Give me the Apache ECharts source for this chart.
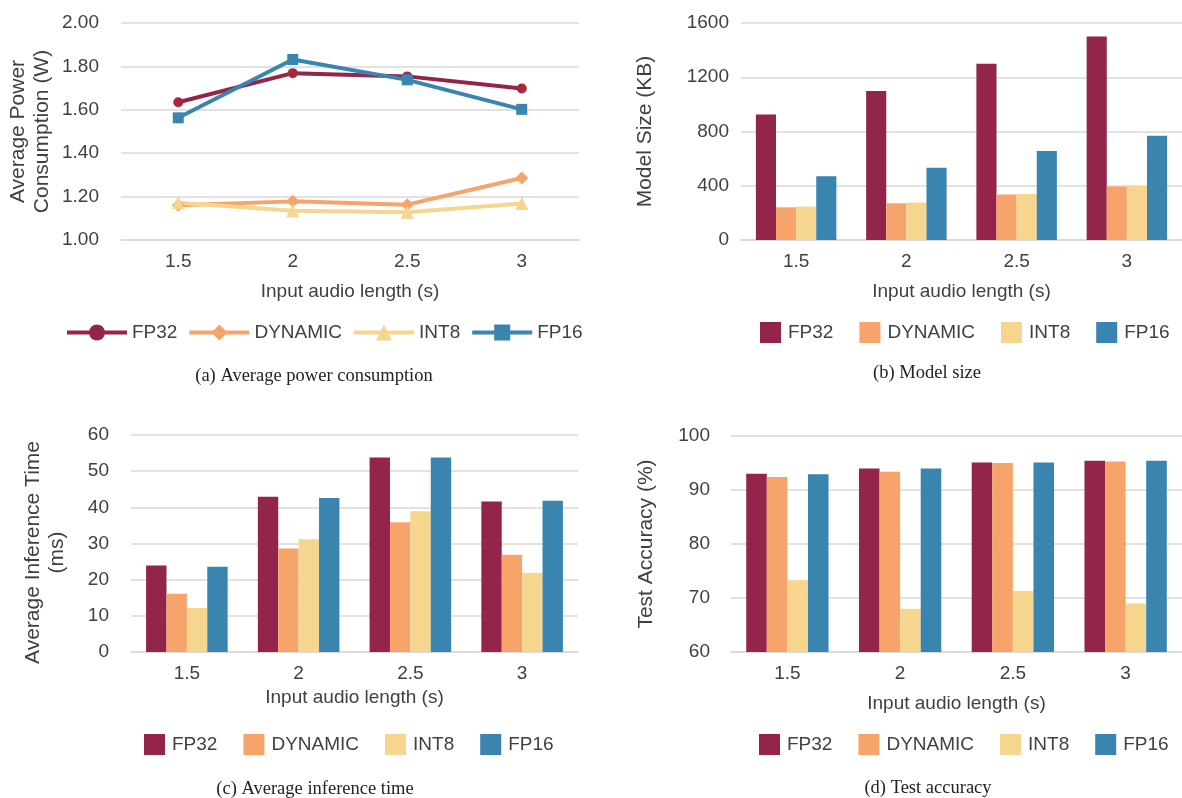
<!DOCTYPE html>
<html>
<head>
<meta charset="utf-8">
<title>Quantization results</title>
<script src="https://cdn.jsdelivr.net/npm/echarts@6/dist/echarts.min.js"></script>
<style>
  html, body { margin: 0; padding: 0; background: #ffffff; }
  #chart { width: 1182px; height: 798px; }
</style>
</head>
<body>
<div id="chart"></div>
<script>
// Input audio lengths (s) shared by all four panels
const categories = ['1.5', '2', '2.5', '3'];
const seriesNames = ['FP32', 'DYNAMIC', 'INT8', 'FP16'];

// (a) Average power consumption (W)
const powerFP32 = [1.635, 1.769, 1.754, 1.698];
const powerDYNAMIC = [1.160, 1.178, 1.163, 1.286];
const powerINT8 = [1.172, 1.135, 1.128, 1.168];
const powerFP16 = [1.563, 1.832, 1.738, 1.602];

// (b) Model size (KB)
const sizeFP32 = [926, 1098, 1300, 1500];
const sizeDYNAMIC = [241, 271, 335, 394];
const sizeINT8 = [246, 276, 340, 399];
const sizeFP16 = [470, 532, 657, 768];

// (c) Average inference time (ms)
const timeFP32 = [23.9, 42.9, 53.8, 41.6];
const timeDYNAMIC = [16.1, 28.6, 35.9, 26.9];
const timeINT8 = [12.2, 31.2, 38.9, 21.9];
const timeFP16 = [23.6, 42.6, 53.8, 41.8];

// (d) Test accuracy (%)
const accFP32 = [93.0, 94.0, 95.1, 95.4];
const accDYNAMIC = [92.4, 93.4, 95.0, 95.3];
const accINT8 = [73.3, 68.0, 71.3, 69.0];
const accFP16 = [92.9, 94.0, 95.1, 95.4];

// Panel captions
const captions = ['(a) Average power consumption', '(b) Model size', '(c) Average inference time', '(d) Test accuracy'];

const COLORS = { FP32: '#922549', DYNAMIC: '#F6A46A', INT8: '#F6D68E', FP16: '#3A85B0' };
const FP32_MARKER = '#A8293E';
const SYMBOLS = { FP32: 'circle', DYNAMIC: 'diamond', INT8: 'triangle', FP16: 'rect' };
const SYMBOL_SIZES = { FP32: 10, DYNAMIC: 13, INT8: 13, FP16: 11 };

const SANS = '"Liberation Sans", Arial, "DejaVu Sans", sans-serif';
const SERIF = '"Liberation Serif", "Times New Roman", "DejaVu Serif", serif';
const TEXT = '#404040';
const GRID_LINE = '#D9D9D9';

const chart = echarts.init(document.getElementById('chart'), null, { renderer: 'canvas' });

function xAxisFor(gridIndex, nameGap) {
  return {
    type: 'category',
    gridIndex: gridIndex,
    data: categories,
    boundaryGap: true,
    name: 'Input audio length (s)',
    nameLocation: 'middle',
    nameGap: nameGap,
    nameTextStyle: { fontFamily: SANS, fontSize: 19, color: TEXT },
    axisLine: { show: true, lineStyle: { color: GRID_LINE, width: 1.5 } },
    axisTick: { show: false },
    axisLabel: { fontFamily: SANS, fontSize: 19, color: TEXT, margin: 12 },
    splitLine: { show: false }
  };
}

function yAxisFor(gridIndex, opts) {
  return {
    type: 'value',
    gridIndex: gridIndex,
    min: opts.min,
    max: opts.max,
    interval: opts.interval,
    name: opts.name,
    nameLocation: 'middle',
    nameGap: opts.nameGap,
    nameTextStyle: Object.assign({ fontFamily: SANS, fontSize: 21, color: TEXT, lineHeight: 24 }, opts.nameStyle || {}),
    axisLine: { show: false },
    axisTick: { show: false },
    axisLabel: {
      fontFamily: SANS, fontSize: 19, color: TEXT, margin: opts.labelMargin,
      formatter: opts.formatter || function (v) { return String(v); }
    },
    splitLine: { show: true, lineStyle: { color: GRID_LINE, width: 1.5 } }
  };
}

const powerData = { FP32: powerFP32, DYNAMIC: powerDYNAMIC, INT8: powerINT8, FP16: powerFP16 };
const sizeData = { FP32: sizeFP32, DYNAMIC: sizeDYNAMIC, INT8: sizeINT8, FP16: sizeFP16 };
const timeData = { FP32: timeFP32, DYNAMIC: timeDYNAMIC, INT8: timeINT8, FP16: timeFP16 };
const accData = { FP32: accFP32, DYNAMIC: accDYNAMIC, INT8: accINT8, FP16: accFP16 };

const series = [];

// Line series for panel (a)
seriesNames.forEach(function (name) {
  series.push({
    type: 'line',
    name: name,
    xAxisIndex: 0,
    yAxisIndex: 0,
    color: COLORS[name],
    symbol: SYMBOLS[name],
    symbolSize: SYMBOL_SIZES[name],
    showAllSymbol: true,
    lineStyle: { width: 4, color: COLORS[name] },
    itemStyle: { color: COLORS[name] },
    emphasis: { disabled: true },
    data: powerData[name].map(function (v) {
      return name === 'FP32' ? { value: v, itemStyle: { color: FP32_MARKER } } : v;
    })
  });
});

// Grouped bar series for panels (b), (c), (d)
[[1, sizeData], [2, timeData], [3, accData]].forEach(function (pair) {
  const idx = pair[0];
  const dataset = pair[1];
  seriesNames.forEach(function (name) {
    series.push({
      type: 'bar',
      name: name,
      xAxisIndex: idx,
      yAxisIndex: idx,
      color: COLORS[name],
      barGap: '0%',
      barCategoryGap: '27%',
      itemStyle: { color: COLORS[name] },
      emphasis: { disabled: true },
      data: dataset[name]
    });
  });
});

function barLegend(left, top) {
  return {
    data: seriesNames,
    left: left,
    top: top,
    icon: 'rect',
    itemWidth: 21,
    itemHeight: 21,
    itemGap: 26,
    selectedMode: false,
    textStyle: { fontFamily: SANS, fontSize: 19, color: TEXT, padding: [0, 0, 0, 2] }
  };
}

const option = {
  backgroundColor: '#ffffff',
  animation: false,
  grid: [
    { left: 121, right: 603, top: 23, bottom: 558 },
    { left: 741, right: -9, top: 23, bottom: 558 },
    { left: 131, right: 604, top: 435, bottom: 146 },
    { left: 731, right: -9, top: 436, bottom: 146 }
  ],
  xAxis: [
    xAxisFor(0, 42),
    xAxisFor(1, 42),
    xAxisFor(2, 36),
    xAxisFor(3, 42)
  ],
  yAxis: [
    yAxisFor(0, {
      min: 1, max: 2, interval: 0.2, name: 'Average Power\nConsumption (W)', nameGap: 67, labelMargin: 22,
      formatter: function (v) { return v.toFixed(2); }
    }),
    yAxisFor(1, { min: 0, max: 1600, interval: 400, name: 'Model Size (KB)', nameGap: 84, labelMargin: 12 }),
    yAxisFor(2, {
      min: 0, max: 60, interval: 10, name: 'Average Inference Time\n(ms)', nameGap: 62, labelMargin: 22,
      nameStyle: { padding: [0, 18, 0, 0] }
    }),
    yAxisFor(3, { min: 60, max: 100, interval: 10, name: 'Test Accuracy (%)', nameGap: 73, labelMargin: 21 })
  ],
  legend: [
    {
      data: seriesNames,
      left: 60,
      top: 318,
      itemWidth: 60,
      itemHeight: 20,
      itemGap: 10,
      selectedMode: false,
      lineStyle: { width: 4 },
      textStyle: { fontFamily: SANS, fontSize: 19, color: TEXT }
    },
    barLegend(755, 317),
    barLegend(139, 729),
    barLegend(754, 729)
  ],
  graphic: [
    { x: 314, y: 376, text: captions[0] },
    { x: 927, y: 373, text: captions[1] },
    { x: 315, y: 789, text: captions[2] },
    { x: 928, y: 788, text: captions[3] }
  ].map(function (c) {
    return {
      type: 'text',
      x: c.x,
      y: c.y,
      silent: true,
      style: {
        text: c.text,
        fontFamily: SERIF,
        fontSize: 18.5,
        fill: '#222222',
        align: 'center',
        verticalAlign: 'middle'
      }
    };
  }),
  series: series
};

chart.setOption(option);
</script>
</body>
</html>
